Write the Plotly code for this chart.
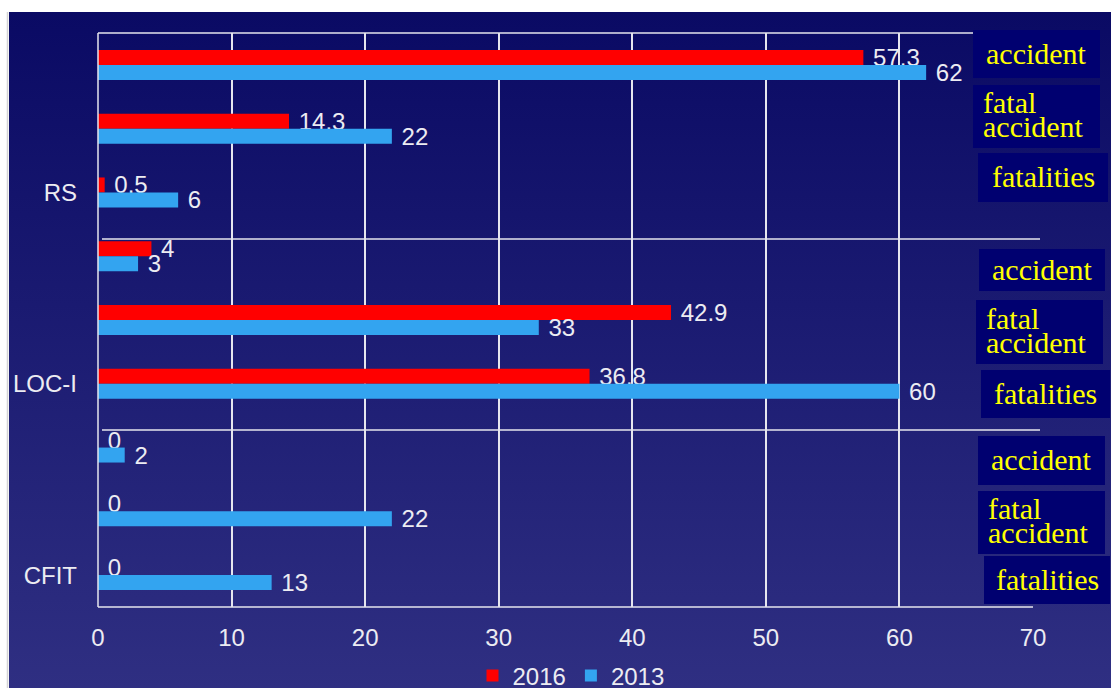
import base64
import plotly.graph_objects as go

# ---------------- data ----------------
slot_labels = ["accident", "fatal accident", "fatalities",
               "accident", "fatal accident", "fatalities",
               "accident", "fatal accident", "fatalities"]
group_labels = ["RS", "LOC-I", "CFIT"]
values_2016 = [57.3, 14.3, 0.5, 4, 42.9, 36.8, 0, 0, 0]
values_2013 = [62, 22, 6, 3, 33, 60, 2, 22, 13]
x_ticks = [0, 10, 20, 30, 40, 50, 60, 70]

# ---------------- geometry helpers ----------------
W, H = 1111, 688
L, R, T, B = 98, 78, 33, 81
PW, PH = W - L - R, H - T - B


def px(xpix):
    return (xpix - L) / PW


def py(ypix):
    return (H - B - ypix) / PH


slots = list(range(len(slot_labels)))
SANS = "Liberation Sans, Arial"
SERIF = "Liberation Serif, Times New Roman"
TXT = "#ececf2"

fig = go.Figure()
fig.add_trace(go.Bar(
    name="2016", y=slots, x=values_2016, orientation="h",
    marker=dict(color="#ff0000", line=dict(width=0)),
    text=["\u00a0" + f"{v:g}" for v in values_2016],
    textposition="outside", constraintext="none", cliponaxis=False,
    textfont=dict(family=SANS, size=24, color=TXT),
))
fig.add_trace(go.Bar(
    name="2013", y=slots, x=values_2013, orientation="h",
    marker=dict(color="#33a4f0", line=dict(width=0)),
    text=["\u00a0" + f"{v:g}" for v in values_2013],
    textposition="outside", constraintext="none", cliponaxis=False,
    textfont=dict(family=SANS, size=24, color=TXT),
))

# gradient background as an svg image
svg = (
    '<svg xmlns="http://www.w3.org/2000/svg" width="1102" height="676" '
    'viewBox="0 0 1102 676" preserveAspectRatio="none">'
    '<defs><linearGradient id="g" x1="0" y1="0" x2="0" y2="1">'
    '<stop offset="0" stop-color="#0a0a64"/>'
    '<stop offset="1" stop-color="#2f2f82"/>'
    '</linearGradient></defs>'
    '<rect width="1102" height="676" fill="url(#g)"/></svg>'
)
src = "data:image/svg+xml;base64," + base64.b64encode(svg.encode()).decode()

shapes = []
line_col = "#e6e6ee"
# left gray edge line
shapes.append(dict(type="line", xref="paper", yref="paper",
                   x0=px(7.5), x1=px(7.5), y0=py(12), y1=py(688),
                   line=dict(color="#d4d4d4", width=1.5)))
# frame: top, bottom, left
shapes.append(dict(type="line", xref="paper", yref="paper", x0=px(98), x1=px(1033),
                   y0=py(33), y1=py(33), line=dict(color=line_col, width=1.5)))
shapes.append(dict(type="line", xref="paper", yref="paper", x0=px(98), x1=px(1033),
                   y0=py(607), y1=py(607), line=dict(color=line_col, width=1.5)))
shapes.append(dict(type="line", xref="paper", yref="paper", x0=px(98), x1=px(98),
                   y0=py(33), y1=py(607), line=dict(color=line_col, width=1.5)))
# group separators
for ysep in (239, 430):
    shapes.append(dict(type="line", xref="paper", yref="paper", x0=px(102), x1=px(1040),
                       y0=py(ysep), y1=py(ysep), line=dict(color=line_col, width=1.5)))

annotations = []
# label boxes on the right (pixel boxes x0, x1, y0, y1)
boxes = [(973, 1100, 30, 78), (973, 1100, 85, 148), (978, 1108, 153, 202),
         (979, 1105, 249, 291), (976, 1103, 300, 364), (981, 1110, 370, 418),
         (978, 1105, 436, 485), (978, 1105, 491, 554), (984, 1110, 556, 604)]
for lab, (x0, x1, y0, y1) in zip(slot_labels, boxes):
    shapes.append(dict(type="rect", xref="paper", yref="paper",
                       x0=px(x0), x1=px(x1), y0=py(y0), y1=py(y1),
                       fillcolor="#000070", line=dict(width=0), layer="above"))
    words = lab.split(" ")
    if len(words) == 1:
        annotations.append(dict(xref="paper", yref="paper", x=px((x0 + x1) / 2),
                                y=py((y0 + y1) / 2 - 1), text=lab, showarrow=False,
                                xanchor="center", yanchor="middle",
                                font=dict(family=SERIF, size=30, color="#ffff00")))
    else:
        ymid = (y0 + y1) / 2
        for k, w in enumerate(words):
            annotations.append(dict(xref="paper", yref="paper", x=px(x0 + 8),
                                    y=py(ymid - 14 + 24 * k), text=w, showarrow=False,
                                    xanchor="left", yanchor="middle",
                                    font=dict(family=SERIF, size=30, color="#ffff00")))

fig.update_layout(
    width=W, height=H,
    margin=dict(l=L, r=R, t=T, b=B, pad=0, autoexpand=False),
    paper_bgcolor="#ffffff", plot_bgcolor="rgba(0,0,0,0)",
    barmode="group", bargap=0.53, bargroupgap=0,
    showlegend=True,
    legend=dict(orientation="h", x=px(571), xanchor="center", y=py(676), yanchor="middle",
                font=dict(family=SANS, size=24, color=TXT),
                bgcolor="rgba(0,0,0,0)", itemwidth=30, traceorder="normal"),
    xaxis=dict(range=[0, 70], tickvals=x_ticks, showgrid=True, gridcolor=line_col,
               gridwidth=1.5, zeroline=False, showline=False, ticks="",
               tickfont=dict(family=SANS, size=24, color=TXT),
               ticklabelstandoff=14, fixedrange=True),
    yaxis=dict(range=[8.5, -0.5], tickvals=[2, 5, 8], ticktext=group_labels,
               showgrid=False, zeroline=False, showline=False, ticks="",
               tickfont=dict(family=SANS, size=24, color=TXT),
               ticklabelstandoff=20, fixedrange=True),
    images=[dict(source=src, xref="paper", yref="paper", x=px(9), y=py(12),
                 sizex=(W - 9) / PW, sizey=(H - 12) / PH, xanchor="left", yanchor="top",
                 sizing="stretch", layer="below")],
    shapes=shapes,
    annotations=annotations,
)

fig.write_html("out.html")
